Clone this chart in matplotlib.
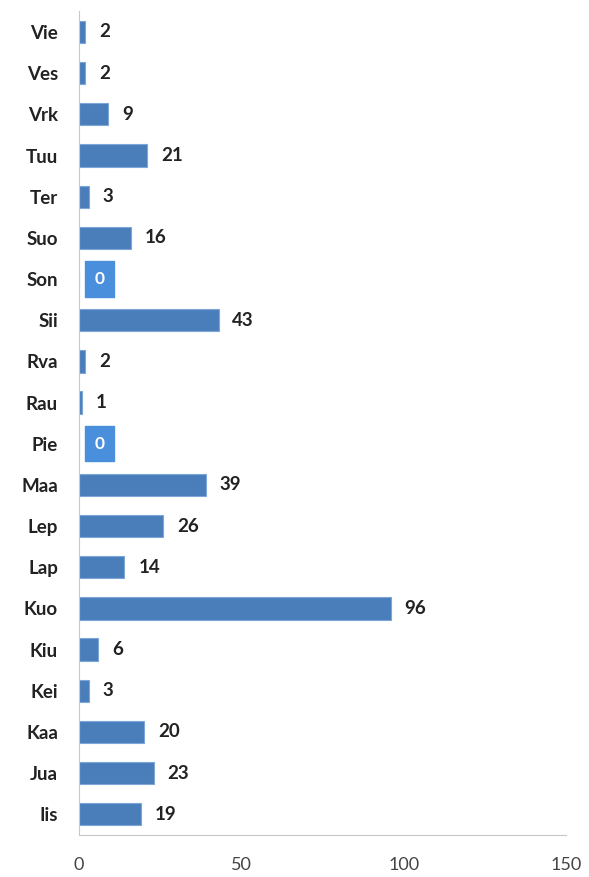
import matplotlib.pyplot as plt
import numpy as np

categories = ['Iis', 'Jua', 'Kaa', 'Kei', 'Kiu', 'Kuo', 'Lap', 'Lep', 'Maa', 'Pie',
              'Rau', 'Rva', 'Sii', 'Son', 'Suo', 'Ter', 'Tuu', 'Vrk', 'Ves', 'Vie']
values = [19, 23, 20, 3, 6, 96, 14, 26, 39, 0,
          1, 2, 43, 0, 16, 3, 21, 9, 2, 2]
xticks = [0, 50, 100, 150]

plt.rcParams['font.family'] = ['Lato', 'DejaVu Sans']

fig = plt.figure(figsize=(5.89, 8.77), dpi=100)
ax = fig.add_axes([0.134, 0.048, 0.827, 0.939])

pos = np.arange(len(categories))
ax.barh(pos, values, height=0.54, color='#4a7ebb', edgecolor='#7ea6d8', linewidth=0.8)

for y, v in zip(pos, values):
    if v == 0:
        # zero values get a filled callout box, like the original
        ax.annotate('0', (0, y), xytext=(15, 0), textcoords='offset points',
                    ha='center', va='center', color='white', fontsize=12.5,
                    fontweight='bold',
                    bbox=dict(boxstyle='square,pad=0.55', fc='#4a8fdc', ec='#4a8fdc'))
    else:
        ax.annotate(str(v), (v, y), xytext=(10, 0), textcoords='offset points',
                    ha='left', va='center', color='#222222', fontsize=13.5,
                    fontweight='bold')

ax.set_xlim(0, 150)
ax.set_ylim(-0.5, len(categories) - 0.5)
ax.set_yticks(pos)
ax.set_yticklabels(categories, fontweight='bold', fontsize=13.5, color='#222222')
ax.set_xticks(xticks)
ax.set_xticklabels([str(t) for t in xticks], fontsize=13, color='#444444')

for side in ['top', 'right']:
    ax.spines[side].set_visible(False)
ax.spines['left'].set_color('#c8c8c8')
ax.spines['bottom'].set_color('#c8c8c8')
ax.tick_params(axis='both', length=0)
ax.tick_params(axis='y', pad=15)
ax.tick_params(axis='x', pad=16)

plt.savefig('out.png', dpi=100)
